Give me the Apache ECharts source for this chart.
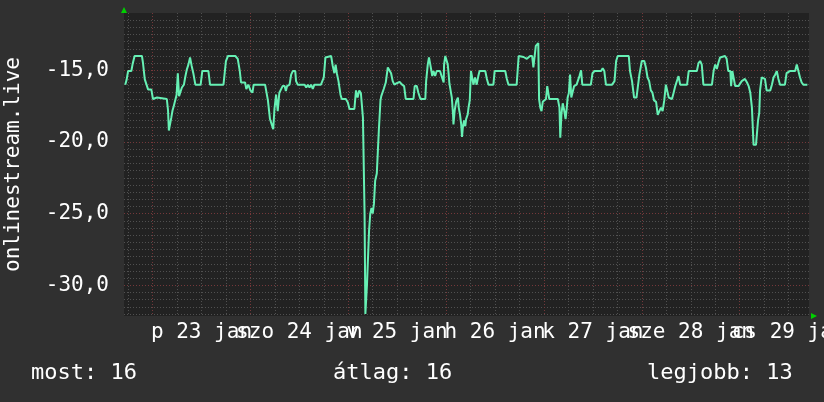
<!DOCTYPE html>
<html><head><meta charset="utf-8">
<script src="https://cdn.jsdelivr.net/npm/echarts@6/dist/echarts.min.js"></script>
<style>html,body{margin:0;padding:0;background:#303030;}#c{width:824px;height:402px;}</style>
</head><body><div id="c"></div>
<script>
// x: hours since Jan 22 00:00 ; chart spans Jan 22 17:00 .. Jan 29 17:00
const startHour = 17;
const endHour = 185;
const dayLabels = ['p 23 jan', 'szo 24 jan', 'v 25 jan', 'h 26 jan', 'k 27 jan', 'sze 28 jan', 'cs 29 jan'];
const yMin = -32.14;
const yMax = -11;
const axisTitle = 'onlinestream.live';
const legendNames = ['most:', 'átlag:', 'legjobb:'];
const legendValues = [16, 16, 13];
// hours since start (17:00)
const hours = [
0.3,0.65,1.0,1.8,2.1,2.6,4.4,4.65,5.1,5.4,5.9,6.7,7.1,8.1,8.5,10.5,10.8,11.0,11.4,11.6,11.9,12.2,12.6,12.9,13.2,13.5,13.9,14.2,14.7,15.0,15.4,15.8,16.2,16.6,17.0,17.5,18.8,19.2,20.7,21.1,24.4,25.0,25.5,27.3,27.9,28.4,28.7,29.7,30.0,30.5,31.0,31.5,31.8,34.6,
35.3,35.8,36.6,36.9,37.3,37.7,38.1,38.9,39.4,39.7,40.0,40.6,41.0,41.4,42.0,42.2,42.6,44.3,44.7,45.1,45.5,45.9,46.3,46.7,48.3,49.0,49.4,50.8,51.2,51.6,51.9,52.2,52.6,53.1,53.4,54.4,54.9,55.3,56.5,56.9,57.3,57.7,58.1,
58.6,59.0,59.2,59.5,59.6,60.0,60.1,60.4,60.7,61.0,61.3,61.6,62.0,62.3,62.5,62.9,63.1,63.2,63.7,64.2,64.7,65.1,65.5,65.9,66.3,66.9,67.6,68.2,68.7,69.1,71.0,71.3,71.8,72.2,72.7,73.9,
74.1,74.5,74.8,75.1,75.4,75.6,75.9,76.3,76.7,77.5,78.0,78.4,78.5,78.8,79.2,79.4,79.6,79.8,80.2,80.4,80.7,80.8,81.1,81.5,81.9,82.1,82.4,82.7,82.9,83.1,83.4,83.7,83.9,84.3,84.5,84.8,85.1,85.4,85.7,86.1,86.5,86.9,87.2,88.6,89.0,89.4,90.6,90.9,93.5,93.9,94.3,96.3,96.6,96.8,98.0,98.4,98.8,99.2,99.6,
100.1,100.4,100.7,101.0,101.6,101.8,102.1,102.4,102.7,103.5,103.8,104.1,104.3,106.4,106.8,107.0,107.3,107.6,107.9,108.3,108.6,108.8,109.1,109.4,109.7,110.0,110.4,111.0,111.7,112.1,112.4,114.5,114.9,115.4,117.0,117.4,117.8,118.2,119.7,120.3,120.7,121.1,123.8,124.1,124.6,124.9,125.1,125.7,126.0,126.4,127.0,127.6,128.0,128.4,128.8,129.2,129.6,130.0,130.5,130.9,131.3,131.7,132.1,132.5,132.9,133.2,133.6,134.0,134.4,134.8,135.2,135.6,136.0,136.4,138.1,138.5,140.5,140.9,141.3,141.7,142.1,144.2,144.6,145.0,145.4,145.8,146.2,146.6,147.4,147.8,148.2,148.7,148.9,149.2,149.6,149.9,150.3,150.7,151.1,151.5,152.3,152.8,153.2,153.6,154.0,154.4,155.0,155.2,155.5,155.8,156.0,156.4,156.8,157.2,157.6,158.5,158.9,159.3,159.7,160.1,160.5,160.9,162.1,162.5,163.3,164.6,165.0,165.4,165.8,166.2,166.6,167.6
];
const values = [
-16.0,-15.65,-15.05,-15.05,-14.58,-14.0,-14.0,-14.47,-15.63,-15.75,-16.33,-16.33,-17.0,-16.9,-17.0,-17.0,-17.8,-19.2,-19.2,-18.3,-17.8,-17.5,-17.5,-16.7,-15.2,-16.8,-16.9,-16.2,-16.0,-15.5,-14.95,-14.6,-14.1,-14.7,-15.2,-16.0,-16.0,-15.05,-15.05,-16.0,-16.0,-14.35,-14.0,-14.0,-14.2,-15.05,-15.85,-15.85,-16.3,-16.0,-16.4,-16.55,-16.0,-16.0,
-17.1,-18.4,-19.1,-17.7,-16.7,-17.85,-16.56,-16.1,-16.1,-16.44,-16.1,-16.0,-15.3,-15.05,-15.05,-15.75,-16.0,-16.0,-16.2,-16.0,-16.2,-16.0,-16.3,-16.0,-16.0,-15.5,-14.1,-14.0,-14.7,-15.2,-14.6,-15.2,-15.75,-16.7,-17.0,-17.0,-17.25,-17.7,-17.7,-16.4,-16.9,-16.4,-16.6,
-18.3,-25.0,-32.0,-32.0,-29.9,-29.9,-26.2,-25.0,-24.6,-25.0,-24.3,-22.7,-22.2,-20.4,-19.2,-17.1,-16.8,-16.9,-16.3,-15.85,-14.8,-14.8,-15.2,-15.75,-16.0,-15.9,-15.8,-16.0,-16.1,-17.0,-17.0,-16.1,-16.1,-16.56,-17.0,-17.0,
-15.75,-14.6,-14.1,-14.1,-15.05,-15.4,-15.05,-15.4,-15.05,-15.05,-15.5,-15.85,-14.6,-14.0,-14.0,-14.6,-15.2,-15.9,-16.0,-16.9,-18.07,-18.77,-17.8,-17.15,-16.9,-17.6,-18.07,-18.77,-19.65,-19.0,-18.5,-18.9,-18.4,-18.07,-17.6,-17.1,-15.05,-15.05,-16.0,-15.5,-16.0,-15.4,-15.05,-15.05,-15.6,-16.0,-16.0,-15.05,-15.05,-15.6,-16.0,-16.0,-14.8,-14.0,-14.07,-14.2,-14.2,-14.07,-14.0,
-14.0,-14.8,-14.8,-13.3,-13.1,-17.0,-17.6,-17.85,-17.2,-17.0,-16.1,-16.1,-17.0,-17.0,-17.6,-19.7,-18.0,-17.3,-17.7,-18.4,-17.6,-16.9,-16.6,-15.3,-16.9,-16.8,-16.1,-16.0,-15.4,-15.0,-16.0,-16.0,-15.2,-15.05,-15.05,-14.85,-15.05,-16.0,-16.0,-15.75,-14.35,-14.0,-14.0,-15.05,-15.75,-15.75,-16.9,-16.9,-16.2,-15.3,-14.35,-14.35,-14.8,-15.5,-15.75,-16.4,-16.56,-17.1,-17.2,-18.1,-18.1,-17.6,-17.85,-17.1,-16.0,-16.1,-16.9,-17.0,-17.0,-16.56,-16.1,-16.0,-15.4,-16.0,-16.0,-15.05,-15.05,-14.5,-14.35,-14.6,-16.0,-16.0,-15.05,-14.6,-14.9,-14.45,-14.1,-14.0,-14.0,-14.2,-15.05,-15.05,-16.1,-15.05,-15.05,-16.1,-16.0,-16.1,-16.0,-15.75,-15.6,-15.85,-16.1,-16.56,-17.6,-20.2,-20.2,-20.1,-18.5,-17.95,-16.4,-15.5,-15.5,-15.6,-16.4,-16.4,-16.0,-15.5,-15.3,-15.05,-15.6,-16.0,-16.0,-15.2,-15.05,-15.05,-14.6,-14.6,-15.5,-15.85,-16.0,-16.0
];

const FONT = 'DejaVu Sans Mono';
const FS = 21;
const LFS = 22;
const seriesData = hours.map((h, i) => [h + startHour, values[i]]);
const fmtY = v => v.toFixed(1).replace('.', ',');
const legendFont = LFS + 'px "' + FONT + '"';

const chart = echarts.init(document.getElementById('c'), null, {renderer: 'canvas'});
chart.setOption({
  backgroundColor: '#303030',
  animation: false,
  grid: {left: 124, right: 15, top: 13, bottom: 86, containLabel: false, outerBoundsMode: 'none',
    show: true, backgroundColor: '#222222', borderWidth: 0},
  xAxis: [{
    type: 'value', min: startHour, max: endHour, minInterval: 24, maxInterval: 24,
    axisLabel: {show: false}, axisTick: {show: false},
    axisLine: {show: true, symbol: ['none', 'triangle'], symbolSize: [6, 6], symbolOffset: [0, 5], lineStyle: {color: '#00d000', width: 0}},
    splitLine: {show: true, showMinLine: false, showMaxLine: false, lineStyle: {color: '#74383a', type: [1, 2], width: 1}},
    minorTick: {show: false, splitNumber: 4},
    minorSplitLine: {show: true, lineStyle: {color: '#505050', type: [1, 2], width: 1}}
  }, {
    type: 'value', min: startHour - 12, max: endHour - 12, minInterval: 24, maxInterval: 24,
    position: 'bottom',
    axisLine: {show: false}, axisTick: {show: false}, splitLine: {show: false},
    axisLabel: {show: true, showMinLabel: false, showMaxLabel: false, hideOverlap: false,
      margin: 6, color: '#ffffff', fontFamily: FONT, fontSize: FS,
      formatter: v => dayLabels[Math.round(v / 24) - 1] || ''}
  }],
  yAxis: [{
    type: 'value', min: yMin, max: yMax, minInterval: 5, maxInterval: 5,
    name: axisTitle, nameLocation: 'middle', nameRotate: 90, nameGap: 100,
    nameTextStyle: {color: '#ffffff', fontFamily: FONT, fontSize: FS},
    axisLine: {show: true, symbol: ['none', 'triangle'], symbolSize: [6, 6], symbolOffset: [0, 3], lineStyle: {color: '#00d000', width: 0}},
    axisTick: {show: false},
    axisLabel: {showMinLabel: false, showMaxLabel: false, margin: 15, color: '#ffffff', fontFamily: FONT, fontSize: FS, formatter: fmtY},
    splitLine: {show: true, showMinLine: false, showMaxLine: false, lineStyle: {color: '#74383a', type: [1, 2], width: 1}},
    minorTick: {show: false, splitNumber: 10},
    minorSplitLine: {show: true, lineStyle: {color: '#505050', type: [1, 2], width: 1}}
  }],
  graphic: [
    {type: 'text', left: 31, top: 362, style: {text: legendNames[0] + ' ' + legendValues[0], fill: '#ffffff', font: legendFont}},
    {type: 'text', left: 333, top: 362, style: {text: legendNames[1] + ' ' + legendValues[1], fill: '#ffffff', font: legendFont}},
    {type: 'text', left: 647, top: 362, style: {text: legendNames[2] + ' ' + legendValues[2], fill: '#ffffff', font: legendFont}}
  ],
  series: [{
    type: 'line', xAxisIndex: 0, yAxisIndex: 0, data: seriesData,
    showSymbol: false, symbol: 'none',
    lineStyle: {color: '#66f0b4', width: 2}
  }]
});
</script></body></html>
